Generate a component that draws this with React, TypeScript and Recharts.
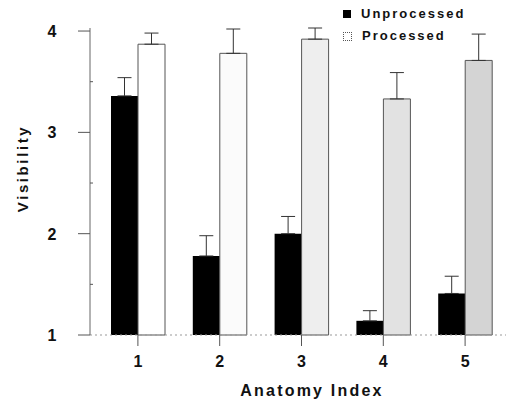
import { BarChart, Bar, XAxis, YAxis, ErrorBar, Cell } from 'recharts';

const categories = ['1', '2', '3', '4', '5'];
const unprocessed = [3.36, 1.78, 2.0, 1.14, 1.41];
const unprocessedErr = [0.18, 0.2, 0.17, 0.1, 0.17];
const processed = [3.87, 3.78, 3.92, 3.33, 3.71];
const processedErr = [0.11, 0.24, 0.11, 0.26, 0.26];
const yTicks = [1, 1.5, 2, 2.5, 3, 3.5, 4];
const processedShades = ['#ffffff', '#fbfbfb', '#eeeeee', '#e2e2e2', '#d4d4d4'];
const legendItems = ['Unprocessed', 'Processed'];

const data = categories.map((c, i) => ({
  index: c,
  unprocessed: unprocessed[i],
  unprocessedErr: [0, unprocessedErr[i]],
  processed: processed[i],
  processedErr: [0, processedErr[i]],
}));

const font = 'Arial, "Liberation Sans", Helvetica, sans-serif';

const YTick = (props: any) => {
  const { x, y, payload } = props;
  const v = payload.value;
  const major = Number.isInteger(v);
  const ax = x + 8; // x = axis - tickSize - tickMargin
  return (
    <g>
      {major ? (
        <text x={ax - 38} y={y} dy={6} textAnchor="middle" fontFamily={font} fontWeight="bold" fontSize={16} fill="#111">
          {v}
        </text>
      ) : null}
      <line x1={ax - (major ? 12 : 0)} x2={ax + (major ? 0 : 3)} y1={y} y2={y} stroke="#555" strokeWidth={1} />
    </g>
  );
};

const YLabel = (props: any) => {
  const { viewBox } = props;
  const cx = viewBox.x + 22;
  const cy = viewBox.y + viewBox.height / 2 - 13;
  return (
    <text
      x={cx}
      y={cy}
      transform={`rotate(-90, ${cx}, ${cy})`}
      textAnchor="middle"
      dominantBaseline="central"
      fontFamily={font}
      fontWeight="bold"
      fontSize={15}
      letterSpacing={2.6}
      fill="#111"
    >
      Visibility
    </text>
  );
};

// legend drawn as an overlay so it doesn't eat into the plot area
const ChartLegend = () => (
  <div
    style={{
      position: 'absolute',
      top: 3,
      left: 343,
      fontFamily: font,
      fontWeight: 'bold',
      fontSize: 13,
      letterSpacing: 2,
      color: '#111',
      lineHeight: '22px',
    }}
  >
    {legendItems.map((name, i) => (
      <div key={name} style={{ display: 'flex', alignItems: 'center' }}>
        <span
          style={{
            width: i === 0 ? 8 : 7,
            height: i === 0 ? 8 : 7,
            background: i === 0 ? '#000' : '#fff',
            border: i === 0 ? 'none' : '1px dotted #555',
            display: 'inline-block',
            marginRight: 10,
          }}
        />
        {name}
      </div>
    ))}
  </div>
);

export default function App() {
  return (
    <div style={{ position: 'absolute', top: 0, left: 0, width: 506, height: 404, background: '#fff' }}>
      <BarChart
        width={506}
        height={404}
        data={data}
        margin={{ top: 28, right: 0, bottom: 39, left: 0 }}
        barGap={0}
        barSize={27}
      >
        <XAxis
          dataKey="index"
          height={30}
          padding={{ left: 7, right: 0 }}
          axisLine={{ stroke: '#999', strokeDasharray: '2 3' }}
          tickLine={{ stroke: '#555' }}
          tickSize={11}
          tick={{ fontFamily: font, fontWeight: 'bold', fontSize: 16, fill: '#111' }}
          tickMargin={10}
          label={{
            value: 'Anatomy Index',
            position: 'insideBottom',
            offset: -31,
            dx: 14,
            style: { fontFamily: font, fontWeight: 'bold', fontSize: 16, letterSpacing: 2.2, fill: '#111' },
          }}
        />
        <YAxis
          domain={[1, 4]}
          ticks={yTicks}
          width={90}
          axisLine={{ stroke: '#666' }}
          tickLine={false}
          tick={<YTick />}
          label={<YLabel />}
        />
        <Bar dataKey="unprocessed" name="Unprocessed" fill="#000" isAnimationActive={false}>
          <ErrorBar dataKey="unprocessedErr" width={7} stroke="#333" strokeWidth={1} />
        </Bar>
        <Bar dataKey="processed" name="Processed" stroke="#555" strokeWidth={1} isAnimationActive={false}>
          {processed.map((_, i) => (
            <Cell key={i} fill={processedShades[i]} />
          ))}
          <ErrorBar dataKey="processedErr" width={7} stroke="#333" strokeWidth={1} />
        </Bar>
      </BarChart>
      <ChartLegend />
    </div>
  );
}
